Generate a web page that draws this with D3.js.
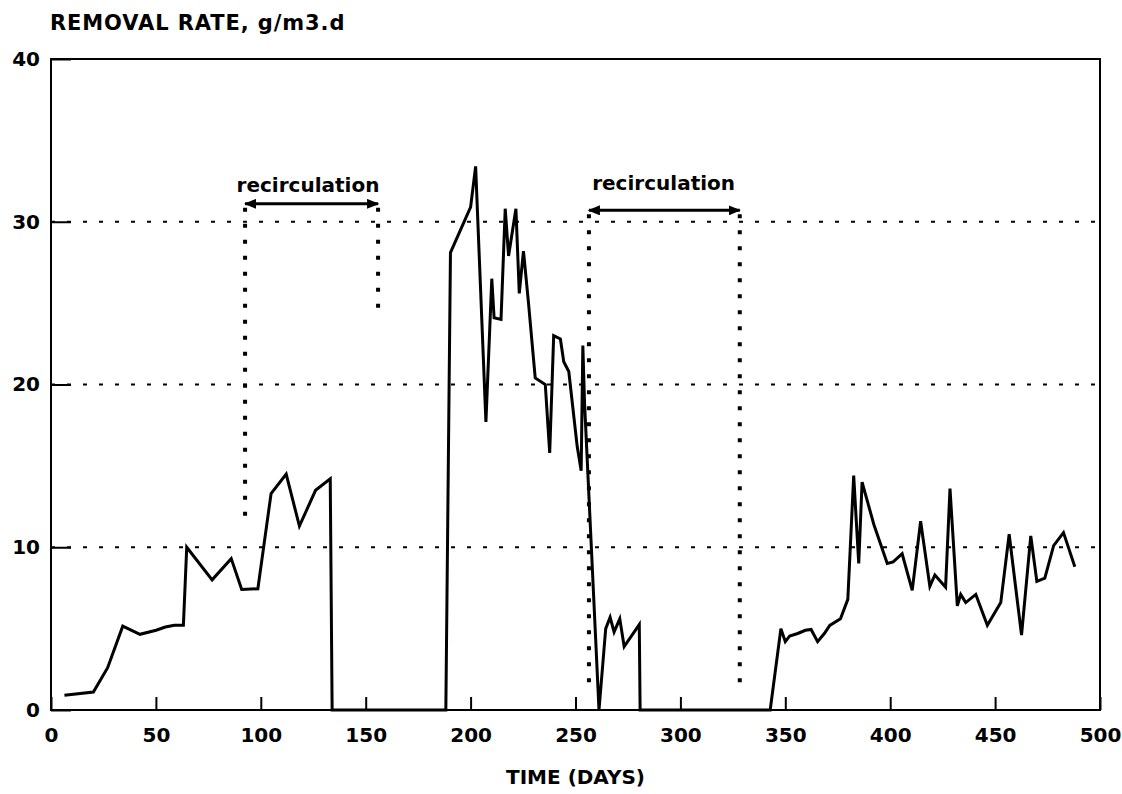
<!DOCTYPE html>
<html>
<head>
<meta charset="utf-8">
<script src="https://cdn.jsdelivr.net/npm/d3@7"></script>
<style>
  html, body { margin: 0; padding: 0; background: #fff; }
  text { font-family: "DejaVu Sans", sans-serif; font-weight: bold; fill: #000; }
</style>
</head>
<body>
<svg id="chart" width="1122" height="794"></svg>
<script>
// ---- data ----
const days = [6.4, 20.2, 27.0, 34.2, 42.4, 50.1, 54.5, 58.8, 63.1, 64.7, 76.8, 85.9, 90.9, 98.6,
  104.9, 112.1, 118.4, 126.1, 133.1, 134.0,
  188.2, 190.4, 200.0, 202.4, 207.3, 210.1, 211.2, 214.5, 216.5, 218.1, 221.6, 223.2, 225.2, 227.6,
  230.8, 235.6, 237.7, 239.6, 242.8, 244.4, 246.8, 250.8, 252.7, 253.5, 254.3, 261.2,
  264.4, 266.5, 268.4, 271.1, 273.2, 280.4, 280.8,
  342.8, 347.9, 350.0, 352.1, 355.9, 359.6, 362.3, 365.4, 368.6, 371.2, 376.3, 379.8, 382.6,
  385.0, 386.6, 392.2, 398.6, 401.4, 405.7, 410.5, 414.5, 418.9, 421.3, 426.4, 428.5, 432.0,
  433.6, 436.0, 440.8, 446.3, 452.7, 456.7, 462.6, 467.0, 469.9, 473.7, 477.9, 482.6, 488.0];
const removalRate = [0.9, 1.1, 2.6, 5.15, 4.65, 4.9, 5.1, 5.2, 5.2, 10.0, 8.0, 9.3, 7.4, 7.45,
  13.3, 14.5, 11.3, 13.5, 14.2, 0,
  0, 28.1, 30.9, 33.4, 17.7, 26.5, 24.1, 24.0, 30.8, 27.9, 30.8, 25.6, 28.2, 25.0,
  20.4, 20.0, 15.8, 23.0, 22.8, 21.4, 20.8, 16.2, 14.7, 22.4, 18.9, 0,
  5.0, 5.7, 4.8, 5.6, 3.9, 5.25, 0,
  0, 5.0, 4.2, 4.55, 4.7, 4.9, 4.95, 4.2, 4.7, 5.2, 5.6, 6.8, 14.4,
  9.0, 14.0, 11.4, 9.0, 9.1, 9.6, 7.35, 11.6, 7.6, 8.3, 7.55, 13.6, 6.4,
  7.1, 6.6, 7.1, 5.2, 6.6, 10.8, 4.6, 10.7, 7.9, 8.1, 10.1, 10.9, 8.8];

const xTicks = [0, 50, 100, 150, 200, 250, 300, 350, 400, 450, 500];
const yTicks = [0, 10, 20, 30, 40];
const gridValues = [10, 20, 30];

// recirculation periods
const recircStart = [92.5, 256.4];
const recircEnd = [155.9, 328.3];
const recircArrowY = [31.1, 30.7];
const recircStartBottom = [11.3, 1.6];
const recircEndBottom = [24.3, 1.6];
const recircLabelX = [122.5, 292];
const recircLabelY = [31.85, 31.95];
const recircLabel = ["recirculation", "recirculation"];

const title = "REMOVAL RATE, g/m3.d";
const xTitle = "TIME (DAYS)";

// ---- layout ----
const W = 1122, H = 794;
const m = { left: 51, right: 22, top: 59, bottom: 84 };
const svg = d3.select("#chart");

const x = d3.scaleLinear().domain([0, 500]).range([m.left, W - m.right]);
const y = d3.scaleLinear().domain([0, 40]).range([H - m.bottom, m.top]);

// gridlines
svg.append("g").selectAll("line").data(gridValues).join("line")
  .attr("x1", x(0)).attr("x2", x(500))
  .attr("y1", d => y(d)).attr("y2", d => y(d))
  .attr("stroke", "#000").attr("stroke-width", 1.8)
  .attr("stroke-dasharray", "4 12");

// axes with inward ticks
const xAxis = d3.axisBottom(x).tickValues(xTicks).tickSize(-13).tickPadding(18).tickFormat(d3.format("d"));
const gx = svg.append("g").attr("transform", `translate(0,${y(0)})`).call(xAxis);
gx.select(".domain").remove();
gx.selectAll(".tick line").attr("stroke", "#000").attr("stroke-width", 2);
gx.selectAll(".tick text").attr("font-size", 20).attr("font-family", "DejaVu Sans").attr("font-weight", "bold");

const yAxis = d3.axisLeft(y).tickValues(yTicks).tickSize(-20).tickPadding(11).tickFormat(d3.format("d"));
const gy = svg.append("g").attr("transform", `translate(${x(0)},0)`).call(yAxis);
gy.select(".domain").remove();
gy.selectAll(".tick line").attr("stroke", "#000").attr("stroke-width", 2);
gy.selectAll(".tick text").attr("font-size", 20).attr("font-family", "DejaVu Sans").attr("font-weight", "bold");

// frame
svg.append("rect")
  .attr("x", x(0)).attr("y", y(40))
  .attr("width", x(500) - x(0)).attr("height", y(0) - y(40))
  .attr("fill", "none").attr("stroke", "#000").attr("stroke-width", 2);

// data line
const pts = days.map((d, i) => [d, removalRate[i]]);
svg.append("path").datum(pts)
  .attr("fill", "none").attr("stroke", "#000").attr("stroke-width", 3)
  .attr("stroke-linejoin", "miter")
  .attr("d", d3.line().x(d => x(d[0])).y(d => y(d[1])));

// arrow markers
const defs = svg.append("defs");
defs.append("marker").attr("id", "ah").attr("viewBox", "0 0 12 10")
  .attr("refX", 11).attr("refY", 5).attr("markerWidth", 12).attr("markerHeight", 10)
  .attr("markerUnits", "userSpaceOnUse").attr("orient", "auto-start-reverse")
  .append("path").attr("d", "M0,0 L12,5 L0,10 Z").attr("fill", "#000");

// recirculation annotations
const rec = recircStart.map((s, i) => ({
  s, e: recircEnd[i], ay: recircArrowY[i], sb: recircStartBottom[i], eb: recircEndBottom[i],
  lx: recircLabelX[i], ly: recircLabelY[i], label: recircLabel[i]
}));
const ga = svg.append("g");
rec.forEach(r => {
  ga.append("line").attr("x1", x(r.s)).attr("x2", x(r.s))
    .attr("y1", y(r.ay) + 4).attr("y2", y(r.sb))
    .attr("stroke", "#000").attr("stroke-width", 4).attr("stroke-dasharray", "4 12");
  ga.append("line").attr("x1", x(r.e)).attr("x2", x(r.e))
    .attr("y1", y(r.ay) + 4).attr("y2", y(r.eb))
    .attr("stroke", "#000").attr("stroke-width", 4).attr("stroke-dasharray", "4 12");
  ga.append("line").attr("x1", x(r.s)).attr("x2", x(r.e))
    .attr("y1", y(r.ay)).attr("y2", y(r.ay))
    .attr("stroke", "#000").attr("stroke-width", 3)
    .attr("marker-start", "url(#ah)").attr("marker-end", "url(#ah)");
  ga.append("text").attr("x", x(r.lx)).attr("y", y(r.ly))
    .attr("text-anchor", "middle").attr("font-size", 20).text(r.label);
});

// titles
svg.append("text").attr("x", 50).attr("y", 30).attr("font-size", 21)
  .attr("letter-spacing", 0.9).text(title);
svg.append("text").attr("x", x(250)).attr("y", 784).attr("text-anchor", "middle")
  .attr("font-size", 20).text(xTitle);
</script>
</body>
</html>
